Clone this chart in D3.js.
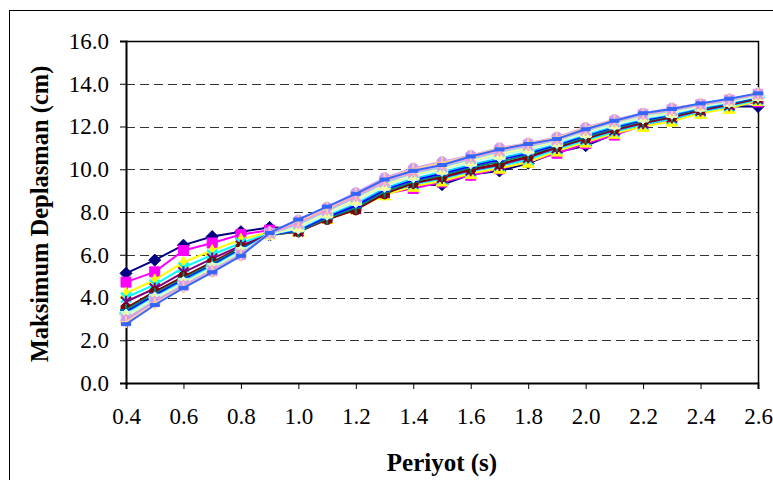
<!DOCTYPE html>
<html>
<head>
<meta charset="utf-8">
<script src="https://cdn.jsdelivr.net/npm/d3@7"></script>
<style>
  body { margin: 0; background: #fff; }
  text { font-family: "Liberation Serif", "Times New Roman", serif; }
</style>
</head>
<body>
<div id="chart"></div>
<script>
// x values (period, s)
const periods = [0.4, 0.5, 0.6, 0.7, 0.8, 0.9, 1.0, 1.1, 1.2, 1.3, 1.4, 1.5, 1.6, 1.7, 1.8, 1.9, 2.0, 2.1, 2.2, 2.3, 2.4, 2.5, 2.6];

// one array per series (cm)
const s1  = [5.13, 5.75, 6.45, 6.85, 7.08, 7.28, 7.25, 7.90, 8.35, 8.95, 9.25, 9.28, 9.75, 9.92, 10.28, 10.80, 11.10, 11.65, 12.05, 12.30, 12.70, 12.95, 12.93];
const s2  = [4.72, 5.20, 6.20, 6.55, 6.95, 7.15, 7.10, 7.75, 8.20, 8.85, 9.10, 9.40, 9.72, 10.02, 10.35, 10.75, 11.20, 11.60, 12.05, 12.30, 12.68, 12.95, 13.15];
const s3  = [4.20, 4.82, 5.65, 6.20, 6.72, 7.05, 7.10, 7.70, 8.15, 8.80, 9.20, 9.45, 9.80, 10.05, 10.33, 10.85, 11.27, 11.68, 12.00, 12.25, 12.62, 12.85, 13.22];
const s4  = [4.00, 4.60, 5.40, 6.00, 6.55, 7.00, 7.12, 7.75, 8.20, 8.90, 9.30, 9.55, 9.90, 10.15, 10.45, 10.95, 11.35, 11.75, 12.10, 12.35, 12.70, 12.95, 13.25];
const s5  = [3.80, 4.42, 5.18, 5.82, 6.42, 6.95, 7.10, 7.72, 8.15, 8.90, 9.35, 9.60, 9.95, 10.20, 10.55, 11.00, 11.42, 11.82, 12.15, 12.42, 12.75, 13.00, 13.30];
const s6  = [3.50, 4.27, 4.98, 5.65, 6.35, 6.92, 7.08, 7.65, 8.10, 8.85, 9.35, 9.65, 10.00, 10.25, 10.60, 11.05, 11.45, 11.88, 12.20, 12.45, 12.78, 13.05, 13.32];
const s7  = [3.42, 4.18, 4.90, 5.58, 6.30, 6.92, 7.10, 7.70, 8.20, 8.95, 9.42, 9.72, 10.08, 10.35, 10.68, 11.10, 11.50, 11.92, 12.25, 12.50, 12.82, 13.08, 13.35];
const s8  = [3.32, 4.10, 4.82, 5.50, 6.25, 6.95, 7.15, 7.78, 8.30, 9.05, 9.50, 9.80, 10.15, 10.45, 10.75, 11.15, 11.58, 11.98, 12.30, 12.55, 12.85, 13.10, 13.38];
const s9  = [3.25, 4.02, 4.76, 5.45, 6.20, 6.95, 7.20, 7.85, 8.40, 9.12, 9.58, 9.88, 10.22, 10.52, 10.82, 11.20, 11.62, 12.02, 12.35, 12.58, 12.88, 13.12, 13.40];
const s10 = [3.18, 3.98, 4.70, 5.40, 6.15, 6.95, 7.25, 7.90, 8.48, 9.20, 9.65, 9.95, 10.30, 10.60, 10.90, 11.25, 11.68, 12.08, 12.40, 12.62, 12.92, 13.15, 13.42];
const s11 = [3.12, 3.92, 4.66, 5.36, 6.10, 6.95, 7.30, 7.95, 8.55, 9.25, 9.72, 10.00, 10.38, 10.68, 10.95, 11.30, 11.72, 12.12, 12.45, 12.66, 12.95, 13.18, 13.45];
const s12 = [3.06, 3.88, 4.62, 5.32, 6.08, 6.95, 7.35, 8.00, 8.60, 9.30, 9.78, 10.05, 10.42, 10.75, 11.02, 11.33, 11.76, 12.16, 12.50, 12.70, 12.98, 13.20, 13.47];
const s13 = [3.00, 3.84, 4.58, 5.28, 6.04, 6.98, 7.42, 8.05, 8.68, 9.38, 9.82, 10.10, 10.48, 10.82, 11.08, 11.36, 11.80, 12.20, 12.54, 12.74, 13.00, 13.22, 13.50];
const s14 = [2.95, 3.80, 4.55, 5.25, 6.00, 7.00, 7.50, 8.12, 8.75, 9.45, 9.88, 10.18, 10.55, 10.88, 11.14, 11.40, 11.85, 12.25, 12.58, 12.78, 13.03, 13.25, 13.52];
const s15 = [2.92, 3.78, 4.52, 5.22, 5.98, 7.05, 7.62, 8.22, 8.90, 9.60, 10.05, 10.35, 10.65, 11.00, 11.22, 11.50, 11.95, 12.32, 12.62, 12.86, 13.06, 13.28, 13.55];
const s16 = [2.85, 3.72, 4.48, 5.20, 5.96, 7.05, 7.60, 8.20, 8.85, 9.55, 10.00, 10.30, 10.62, 10.98, 11.20, 11.48, 11.92, 12.30, 12.60, 12.84, 13.05, 13.28, 13.55];
const s17 = [2.75, 3.65, 4.45, 5.18, 5.95, 7.02, 7.65, 8.25, 8.85, 9.52, 9.93, 10.20, 10.60, 10.93, 11.18, 11.42, 11.87, 12.27, 12.62, 12.82, 13.08, 13.30, 13.55];

const seriesValues = [s1, s2, s3, s4, s5, s6, s7, s8, s9, s10, s11, s12, s13, s14, s15, s16, s17];
const seriesColors = ["#000080", "#FF00FF", "#FFFF00", "#00FFFF", "#800080", "#800000", "#008080", "#0000FF",
                      "#00CCFF", "#CCFFFF", "#CCFFCC", "#FFFF99", "#99CCFF", "#FF99CC", "#CC99FF", "#FFCC99", "#3366FF"];
const markerCycle = ["diamond", "square", "triangle", "x", "star", "circle", "plus", "dash", "longdash"];

const yTicks = [0, 2, 4, 6, 8, 10, 12, 14, 16];
const xTicks = [0.4, 0.6, 0.8, 1.0, 1.2, 1.4, 1.6, 1.8, 2.0, 2.2, 2.4, 2.6];

const W = 773, H = 480;
const plot = { left: 126, top: 41, right: 758, bottom: 383 };

const svg = d3.select("#chart").append("svg")
    .attr("width", W)
    .attr("height", H);

// chart frame (runs off the right/bottom edge like the source)
svg.append("rect")
    .attr("x", 9.5).attr("y", 10.5)
    .attr("width", 820).attr("height", 520)
    .attr("fill", "#fff")
    .attr("stroke", "#000")
    .attr("stroke-width", 1);

const x = d3.scaleLinear().domain([0.4, 2.6]).range([plot.left, plot.right]);
const y = d3.scaleLinear().domain([0, 16]).range([plot.bottom, plot.top]);

// dashed gridlines
svg.append("g")
    .selectAll("line")
    .data(yTicks.filter(d => d > 0 && d < 16))
    .enter().append("line")
    .attr("x1", plot.left).attr("x2", plot.right)
    .attr("y1", d => Math.round(y(d)) + 0.5).attr("y2", d => Math.round(y(d)) + 0.5)
    .attr("stroke", "#333")
    .attr("stroke-width", 1)
    .attr("stroke-dasharray", "9,5");

// plot area border (top and right)
svg.append("path")
    .attr("d", `M${plot.left},${plot.top + 0.5}H${plot.right + 0.5}V${plot.bottom}`)
    .attr("fill", "none")
    .attr("stroke", "#000")
    .attr("stroke-width", 1.5);

// y axis
const yAxis = svg.append("g")
    .attr("transform", `translate(${plot.left},0)`)
    .call(d3.axisLeft(y).tickValues(yTicks).tickFormat(d3.format(".1f")).tickSize(6).tickPadding(11));
yAxis.select(".domain").attr("stroke", "#000").attr("stroke-width", 2);
yAxis.selectAll("text").attr("font-size", 23).attr("font-family", "Liberation Serif").attr("fill", "#000");

// x axis
const xAxis = svg.append("g")
    .attr("transform", `translate(0,${plot.bottom})`)
    .call(d3.axisBottom(x).tickValues(xTicks).tickFormat(d3.format(".1f")).tickSize(6).tickPadding(19));
xAxis.select(".domain").attr("stroke", "#000").attr("stroke-width", 2);
xAxis.selectAll("text").attr("font-size", 23).attr("font-family", "Liberation Serif").attr("fill", "#000");

// axis titles
svg.append("text")
    .attr("transform", `translate(48,${(plot.top + plot.bottom) / 2 + 2}) rotate(-90)`)
    .attr("text-anchor", "middle")
    .attr("font-size", 24.5)
    .attr("font-weight", "bold")
    .text("Maksimum Deplasman (cm)");

svg.append("text")
    .attr("x", (plot.left + plot.right) / 2)
    .attr("y", 471)
    .attr("text-anchor", "middle")
    .attr("font-size", 25)
    .attr("font-weight", "bold")
    .text("Periyot (s)");

// marker shapes, Excel style
function markerPath(type) {
  const r = 5;
  switch (type) {
    case "diamond":  return `M0,${-r - 1}L${r + 1},0L0,${r + 1}L${-r - 1},0Z`;
    case "square":   return `M${-r},${-r}H${r}V${r}H${-r}Z`;
    case "triangle": return `M0,${-r - 1}L${r + 1},${r}L${-r - 1},${r}Z`;
    case "x":        return `M${-r},${-r}L${r},${r}M${-r},${r}L${r},${-r}`;
    case "star":     return `M${-r},${-r}L${r},${r}M${-r},${r}L${r},${-r}M0,${-r - 1}V${r + 1}`;
    case "circle":   return d3.symbol(d3.symbolCircle, 80)();
    case "plus":     return `M${-r - 1},0H${r + 1}M0,${-r - 1}V${r + 1}`;
    case "dash":     return `M-4.5,-1.5H4.5V1.5H-4.5Z`;
    case "longdash": return `M-6,-1.5H6V1.5H-6Z`;
  }
}
const stroked = new Set(["x", "star", "plus"]);

const line = d3.line()
    .x((d, i) => x(periods[i]))
    .y(d => y(d));

const seriesG = svg.append("g").selectAll("g")
    .data(seriesValues)
    .enter().append("g");

seriesG.each(function(vals, si) {
  const g = d3.select(this);
  const col = seriesColors[si];
  const mk = markerCycle[si % markerCycle.length];
  g.append("path")
      .attr("d", line(vals))
      .attr("fill", "none")
      .attr("stroke", col)
      .attr("stroke-width", 2);
  g.selectAll("path.mark")
      .data(vals)
      .enter().append("path")
      .attr("class", "mark")
      .attr("transform", (d, i) => `translate(${x(periods[i])},${y(d)})`)
      .attr("d", markerPath(mk))
      .attr("fill", stroked.has(mk) ? "none" : col)
      .attr("stroke", col)
      .attr("stroke-width", stroked.has(mk) ? 2 : 1);
});
</script>
</body>
</html>
